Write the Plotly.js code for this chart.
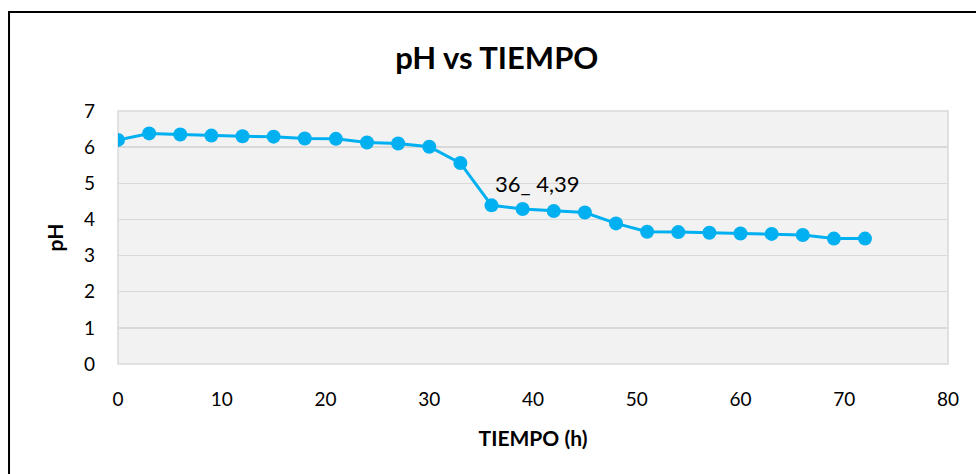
<!DOCTYPE html>
<html>
<head>
<meta charset="utf-8">
<script src="https://cdn.plot.ly/plotly-3.0.1.min.js"></script>
<style>html,body{margin:0;padding:0;background:#fff;}#chart{width:976px;height:474px;}</style>
</head>
<body>
<div id="chart"></div>
<script>
const tiempo = [0,3,6,9,12,15,18,21,24,27,30,33,36,39,42,45,48,51,54,57,60,63,66,69,72];
const ph = [6.20,6.38,6.35,6.32,6.30,6.29,6.24,6.23,6.13,6.10,6.01,5.56,4.39,4.29,4.23,4.19,3.89,3.66,3.65,3.63,3.61,3.60,3.57,3.47,3.47];
const labelIdx = 12;
const labelText = "36_ 4,39";

const font = "Lato, 'Open Sans', 'Liberation Sans', sans-serif";

const trace = {
  x: tiempo, y: ph, type: 'scatter', mode: 'lines+markers',
  line: {color: '#00b0f0', width: 3},
  marker: {color: '#00b0f0', size: 14},
  hoverinfo: 'skip'
};

const layout = {
  width: 976, height: 474,
  margin: {l: 118, r: 28, t: 111, b: 110},
  paper_bgcolor: '#ffffff',
  plot_bgcolor: '#f2f2f2',
  showlegend: false,
  font: {family: font, color: '#000', size: 19},
  title: {text: '<b>pH vs TIEMPO</b>', font: {size: 31, family: font}, xref: 'container', x: 0.509, xanchor: 'center', yref: 'container', y: 0.878, yanchor: 'middle'},
  xaxis: {
    range: [0, 80], dtick: 10, tick0: 0, showgrid: false, zeroline: false,
    showline: false, ticks: '', ticklen: 0, tickfont: {size: 19},
    ticklabelstandoff: 22,
    title: {text: '<b>TIEMPO (h)</b>', font: {size: 21}, standoff: 22}
  },
  yaxis: {
    range: [0, 7], dtick: 1, tick0: 0, showgrid: true, gridcolor: '#d9d9d9', gridwidth: 1.5,
    zeroline: false, showline: false, ticks: '', tickfont: {size: 19},
    ticklabelstandoff: 22,
    title: {text: '<b>pH</b>', font: {size: 21}, standoff: 14}
  },
  shapes: [
    {type: 'rect', xref: 'paper', yref: 'paper', x0: 0, x1: 1, y0: 0, y1: 1, line: {color: '#d9d9d9', width: 1.5}, layer: 'below'},
    {type: 'rect', xref: 'paper', yref: 'paper', x0: -0.1313, x1: 1.2, y0: -0.6, y1: 1.391, line: {color: '#000000', width: 2}, fillcolor: 'rgba(0,0,0,0)'}
  ],
  annotations: [
    {x: tiempo[labelIdx], y: ph[labelIdx], xref: 'x', yref: 'y', text: labelText, showarrow: false,
     xanchor: 'left', yanchor: 'middle', xshift: 1, yshift: 22, font: {size: 22}}
  ]
};

Plotly.newPlot('chart', [trace], layout, {displayModeBar: false, staticPlot: true});
</script>
</body>
</html>
